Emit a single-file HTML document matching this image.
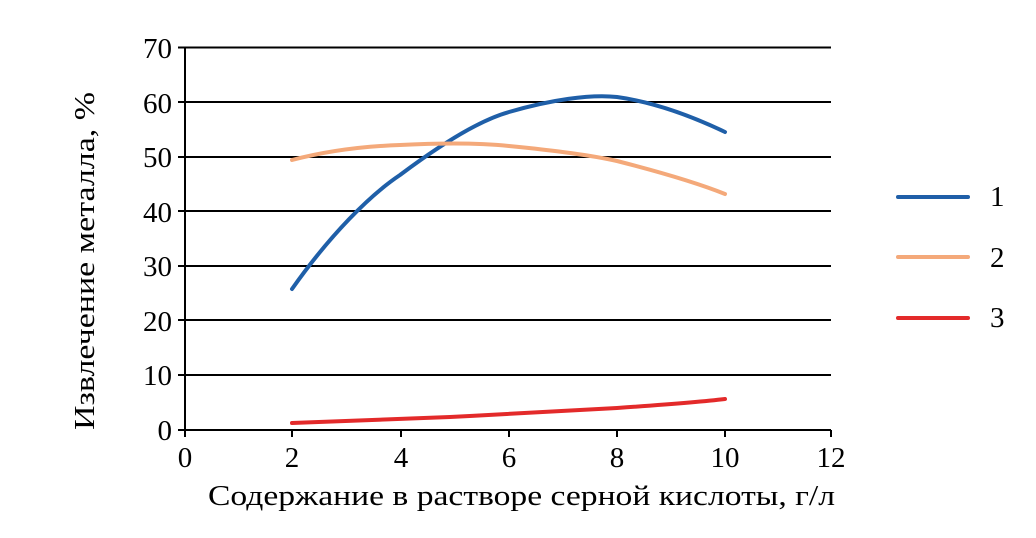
<!DOCTYPE html>
<html><head><meta charset="utf-8"><style>body{margin:0;background:#fff}</style></head><body>
<svg width="1036" height="533" xmlns="http://www.w3.org/2000/svg" font-family="Liberation Serif, serif" font-size="29" fill="#000">
<g stroke="#000" stroke-width="2">
<line x1="178" y1="47.5" x2="831" y2="47.5"/>
<line x1="178" y1="102" x2="831" y2="102"/>
<line x1="178" y1="157" x2="831" y2="157"/>
<line x1="178" y1="211" x2="831" y2="211"/>
<line x1="178" y1="266" x2="831" y2="266"/>
<line x1="178" y1="320" x2="831" y2="320"/>
<line x1="178" y1="375" x2="831" y2="375"/>
<line x1="178" y1="430" x2="831" y2="430"/>
<line x1="185" y1="47" x2="185" y2="430"/>
<line x1="185" y1="430" x2="185" y2="437"/><line x1="292" y1="430" x2="292" y2="437"/><line x1="401" y1="430" x2="401" y2="437"/><line x1="509" y1="430" x2="509" y2="437"/><line x1="617" y1="430" x2="617" y2="437"/><line x1="725" y1="430" x2="725" y2="437"/><line x1="831" y1="430" x2="831" y2="437"/>
</g>
<g text-anchor="end">
<text x="172" y="58">70</text><text x="172" y="113">60</text><text x="172" y="167">50</text><text x="172" y="222">40</text><text x="172" y="276">30</text><text x="172" y="331">20</text><text x="172" y="385">10</text><text x="172" y="440">0</text>
</g>
<g text-anchor="middle">
<text x="185" y="467">0</text><text x="292" y="467">2</text><text x="401" y="467">4</text><text x="509" y="467">6</text><text x="617" y="467">8</text><text x="725" y="467">10</text><text x="831" y="467">12</text>
</g>
<text x="208" y="505" textLength="627" lengthAdjust="spacingAndGlyphs">Содержание в растворе серной кислоты, г/л</text>
<text transform="translate(94,430) rotate(-90)" textLength="338" lengthAdjust="spacingAndGlyphs">Извлечение металла, %</text>
<g fill="none" stroke-width="4" stroke-linecap="round">
<path stroke="#1f5fa8" d="M292,289 C330,235 370,195 400,175 C440,145 480,120 509,112 C550,100 590,94 617,97 C660,103 700,120 725,132"/>
<path stroke="#f4a97a" d="M292,160 C330,150 370,146 400,145 C440,143 480,143 509,146 C550,150 590,155 617,161 C660,172 700,184 725,194"/>
<path stroke="#e32a2a" d="M292,423 C350,421 400,419 450,417 C509,414 570,411 617,408 C660,405 700,402 725,399"/>
<line stroke="#1f5fa8" x1="898" y1="197" x2="968" y2="197"/>
<line stroke="#f4a97a" x1="898" y1="257" x2="968" y2="257"/>
<line stroke="#e32a2a" x1="898" y1="318" x2="968" y2="318"/>
</g>
<text x="990" y="206">1</text><text x="990" y="267">2</text><text x="990" y="327">3</text>
</svg>
</body></html>
